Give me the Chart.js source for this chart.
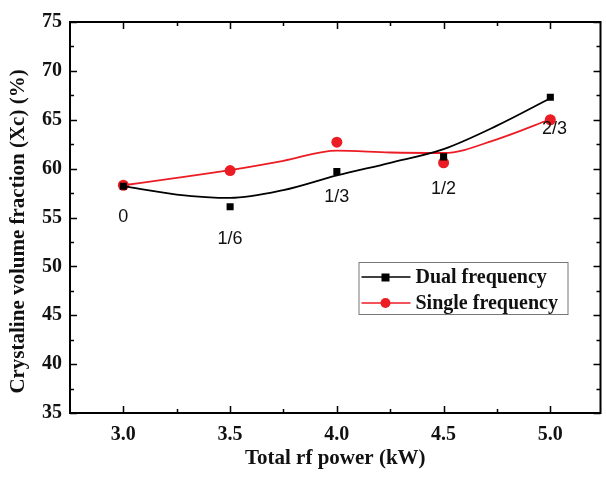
<!DOCTYPE html>
<html>
<head>
<meta charset="utf-8">
<script src="https://cdn.jsdelivr.net/npm/chart.js@4"></script>
<style>
  html, body { margin: 0; padding: 0; background: #fff; }
  #wrap { width: 606px; height: 477px; }
</style>
</head>
<body>
<div id="wrap"><canvas id="xcChart"></canvas></div>
<script>
// measured points
const powerKW = [3.0, 3.5, 4.0, 4.5, 5.0];
const dualXc = [58.2, 56.1, 59.7, 61.2, 67.3];
const singleXc = [58.3, 59.8, 62.7, 60.6, 65.0];

// fitted curves
const fitPowerKW = [3.0, 3.25, 3.5, 3.75, 4.0, 4.25, 4.5, 4.75, 5.0];
const dualFitXc = [58.2, 57.35, 57.0, 57.8, 59.3, 60.6, 62.0, 64.4, 67.2];
const singleFitXc = [58.3, 59.05, 59.85, 60.8, 61.85, 61.65, 61.6, 63.0, 65.05];

// ratio annotations
const ratioLabels = ["0", "1/6", "1/3", "1/2", "2/3"];
const ratioPowerKW = [3.0, 3.5, 4.0, 4.5, 5.02];
const ratioXc = [55.0, 52.75, 57.05, 57.9, 64.0];

// axis ticks
const xTicks = [3.0, 3.5, 4.0, 4.5, 5.0];
const xMinorTicks = [3.25, 3.75, 4.25, 4.75];
const yTicks = [35, 40, 45, 50, 55, 60, 65, 70, 75];
const yMinorTicks = [37.5, 42.5, 47.5, 52.5, 57.5, 62.5, 67.5, 72.5];

const yTitle = "Crystaline volume fraction (Xc) (%)";

const BLACK = "#000000";
const RED = "#ec1c24";
const SERIF = "'Liberation Serif', 'Times New Roman', serif";
const serifBold = { family: SERIF, weight: "bold" };

const toXY = (xs, ys) => xs.map((x, i) => ({ x, y: ys[i] }));

// frame + inward ticks on all four sides
const framePlugin = {
  id: "frame",
  afterDatasetsDraw(chart) {
    const { ctx, chartArea: a, scales } = chart;
    const xs = scales.x, ys = scales.y;
    ctx.save();
    ctx.strokeStyle = BLACK;
    ctx.lineWidth = 1.5;
    ctx.beginPath();
    const tick = (vals, len, isX) => {
      vals.forEach((v) => {
        if (isX) {
          const px = Math.round(xs.getPixelForValue(v)) + 0.5;
          ctx.moveTo(px, a.bottom); ctx.lineTo(px, a.bottom - len);
          ctx.moveTo(px, a.top); ctx.lineTo(px, a.top + len);
        } else {
          const py = Math.round(ys.getPixelForValue(v)) + 0.5;
          ctx.moveTo(a.left, py); ctx.lineTo(a.left + len, py);
          ctx.moveTo(a.right, py); ctx.lineTo(a.right - len, py);
        }
      });
    };
    tick(xTicks, 7, true);
    tick(xMinorTicks, 4, true);
    tick(yTicks, 7, false);
    tick(yMinorTicks, 4, false);
    ctx.stroke();
    ctx.lineWidth = 2;
    ctx.strokeRect(a.left, a.top, a.right - a.left, a.bottom - a.top);
    ctx.restore();
  },
};

// ratio text labels + rotated y title
const textPlugin = {
  id: "texts",
  afterDatasetsDraw(chart) {
    const { ctx, scales, chartArea: a } = chart;
    ctx.save();
    ctx.fillStyle = "#111";
    ctx.font = "18px 'Liberation Sans', Arial, sans-serif";
    ctx.textAlign = "center";
    ctx.textBaseline = "middle";
    ratioLabels.forEach((t, i) => {
      ctx.fillText(t, scales.x.getPixelForValue(ratioPowerKW[i]), scales.y.getPixelForValue(ratioXc[i]));
    });
    ctx.translate(19, (a.top + a.bottom) / 2 + 14);
    ctx.rotate(-Math.PI / 2);
    ctx.font = "bold 21px " + SERIF;
    ctx.fillText(yTitle, 0, 0);
    ctx.restore();
  },
};

// legend box inside the plot
const legendPlugin = {
  id: "boxLegend",
  afterDraw(chart) {
    const { ctx, chartArea: a } = chart;
    const left = a.right - 242, top = a.top + 240, w = 209, h = 52;
    ctx.save();
    ctx.fillStyle = "#fff";
    ctx.fillRect(left, top, w, h);
    ctx.strokeStyle = "#777";
    ctx.lineWidth = 1;
    ctx.strokeRect(left + 0.5, top + 0.5, w, h);
    const items = [chart.data.datasets[1], chart.data.datasets[3]];
    items.forEach((ds, i) => {
      const y = top + 15 + i * 26;
      ctx.strokeStyle = ds.borderColor;
      ctx.lineWidth = 1.5;
      ctx.beginPath();
      ctx.moveTo(left + 3, y); ctx.lineTo(left + 52, y);
      ctx.stroke();
      ctx.fillStyle = ds.backgroundColor;
      if (ds.pointStyle === "rect") {
        ctx.fillRect(left + 23, y - 3.5, 8, 8);
      } else {
        ctx.beginPath();
        ctx.arc(left + 27, y, 5, 0, Math.PI * 2);
        ctx.fill();
      }
      ctx.fillStyle = "#111";
      ctx.font = "bold 20px " + SERIF;
      ctx.textBaseline = "middle";
      ctx.fillText(ds.label, left + 57, y + 1);
    });
    ctx.restore();
  },
};

new Chart(document.getElementById("xcChart"), {
  type: "scatter",
  data: {
    datasets: [
      {
        label: "Dual fit",
        type: "line",
        data: toXY(fitPowerKW, dualFitXc),
        borderColor: BLACK,
        borderWidth: 1.8,
        pointRadius: 0,
        cubicInterpolationMode: "monotone",
        fill: false,
      },
      {
        label: "Dual frequency",
        data: toXY(powerKW, dualXc),
        showLine: false,
        pointStyle: "rect",
        pointRadius: 5,
        borderColor: BLACK,
        backgroundColor: BLACK,
        borderWidth: 0,
      },
      {
        label: "Single fit",
        type: "line",
        data: toXY(fitPowerKW, singleFitXc),
        borderColor: RED,
        borderWidth: 1.8,
        pointRadius: 0,
        cubicInterpolationMode: "monotone",
        fill: false,
      },
      {
        label: "Single frequency",
        data: toXY(powerKW, singleXc),
        showLine: false,
        pointStyle: "circle",
        pointRadius: 5.5,
        borderColor: RED,
        backgroundColor: RED,
        borderWidth: 0,
      },
    ],
  },
  options: {
    responsive: true,
    maintainAspectRatio: false,
    animation: false,
    layout: { padding: { top: 22, right: 3, left: 0, bottom: 0 } },
    plugins: { legend: { display: false }, tooltip: { enabled: false } },
    scales: {
      x: {
        type: "linear",
        min: 2.75,
        max: 5.235,
        grid: { display: false, drawTicks: false },
        border: { display: false },
        afterBuildTicks: (s) => { s.ticks = xTicks.map((v) => ({ value: v })); },
        afterFit: (s) => { s.height = 64; },
        ticks: {
          padding: 10,
          color: "#111",
          font: { ...serifBold, size: 20 },
          callback: (v) => Number(v).toFixed(1),
          maxRotation: 0,
        },
        title: {
          display: true,
          text: "Total rf power (kW)",
          color: "#111",
          font: { ...serifBold, size: 21 },
          padding: { top: 0, bottom: 6 },
        },
      },
      y: {
        min: 35,
        max: 75,
        grid: { display: false, drawTicks: false },
        border: { display: false },
        afterBuildTicks: (s) => { s.ticks = yTicks.map((v) => ({ value: v })); },
        afterFit: (s) => { s.width = 70; },
        ticks: {
          padding: 8,
          color: "#111",
          font: { ...serifBold, size: 20 },
        },
      },
    },
  },
  plugins: [framePlugin, textPlugin, legendPlugin],
});
</script>
</body>
</html>
